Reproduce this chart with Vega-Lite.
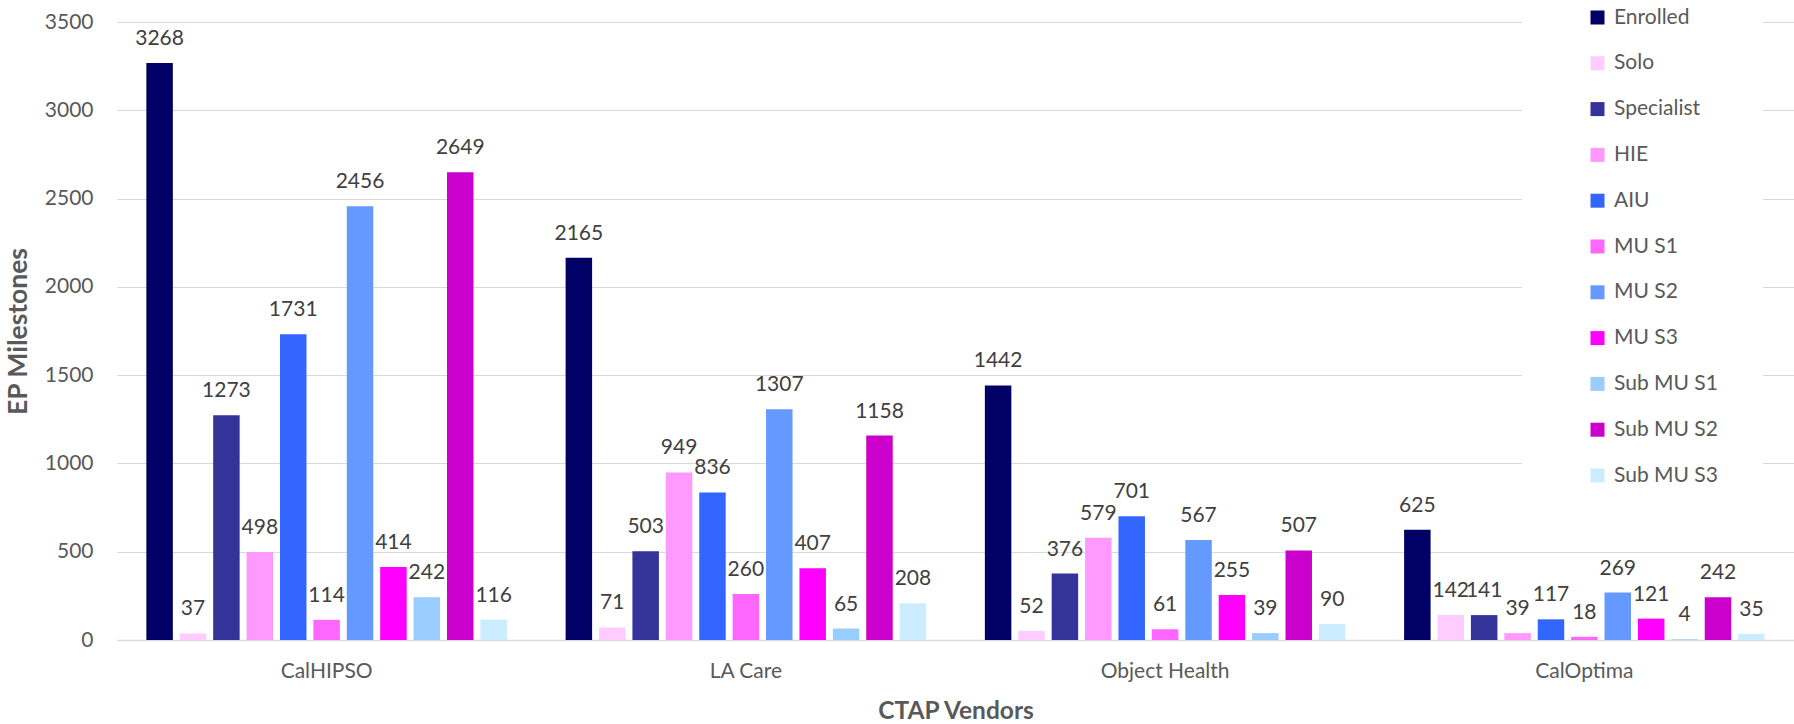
{
  "$schema": "https://vega.github.io/schema/vega-lite/v6.json",
  "autosize": {"type": "none"},
  "width": 1677,
  "height": 618,
  "padding": {"left": 117, "top": 22, "right": 0, "bottom": 84},
  "background": "white",
  "config": {
    "view": {"stroke": null},
    "font": "Lato"
  },
  "data": {
    "values": [
      {"vendor": "CalHIPSO", "series": "Enrolled", "value": 3268},
      {"vendor": "CalHIPSO", "series": "Solo", "value": 37},
      {"vendor": "CalHIPSO", "series": "Specialist", "value": 1273},
      {"vendor": "CalHIPSO", "series": "HIE", "value": 498},
      {"vendor": "CalHIPSO", "series": "AIU", "value": 1731},
      {"vendor": "CalHIPSO", "series": "MU S1", "value": 114},
      {"vendor": "CalHIPSO", "series": "MU S2", "value": 2456},
      {"vendor": "CalHIPSO", "series": "MU S3", "value": 414},
      {"vendor": "CalHIPSO", "series": "Sub MU S1", "value": 242},
      {"vendor": "CalHIPSO", "series": "Sub MU S2", "value": 2649},
      {"vendor": "CalHIPSO", "series": "Sub MU S3", "value": 116},
      {"vendor": "LA Care", "series": "Enrolled", "value": 2165},
      {"vendor": "LA Care", "series": "Solo", "value": 71},
      {"vendor": "LA Care", "series": "Specialist", "value": 503},
      {"vendor": "LA Care", "series": "HIE", "value": 949},
      {"vendor": "LA Care", "series": "AIU", "value": 836},
      {"vendor": "LA Care", "series": "MU S1", "value": 260},
      {"vendor": "LA Care", "series": "MU S2", "value": 1307},
      {"vendor": "LA Care", "series": "MU S3", "value": 407},
      {"vendor": "LA Care", "series": "Sub MU S1", "value": 65},
      {"vendor": "LA Care", "series": "Sub MU S2", "value": 1158},
      {"vendor": "LA Care", "series": "Sub MU S3", "value": 208},
      {"vendor": "Object Health", "series": "Enrolled", "value": 1442},
      {"vendor": "Object Health", "series": "Solo", "value": 52},
      {"vendor": "Object Health", "series": "Specialist", "value": 376},
      {"vendor": "Object Health", "series": "HIE", "value": 579},
      {"vendor": "Object Health", "series": "AIU", "value": 701},
      {"vendor": "Object Health", "series": "MU S1", "value": 61},
      {"vendor": "Object Health", "series": "MU S2", "value": 567},
      {"vendor": "Object Health", "series": "MU S3", "value": 255},
      {"vendor": "Object Health", "series": "Sub MU S1", "value": 39},
      {"vendor": "Object Health", "series": "Sub MU S2", "value": 507},
      {"vendor": "Object Health", "series": "Sub MU S3", "value": 90},
      {"vendor": "CalOptima", "series": "Enrolled", "value": 625},
      {"vendor": "CalOptima", "series": "Solo", "value": 142},
      {"vendor": "CalOptima", "series": "Specialist", "value": 141},
      {"vendor": "CalOptima", "series": "HIE", "value": 39},
      {"vendor": "CalOptima", "series": "AIU", "value": 117},
      {"vendor": "CalOptima", "series": "MU S1", "value": 18},
      {"vendor": "CalOptima", "series": "MU S2", "value": 269},
      {"vendor": "CalOptima", "series": "MU S3", "value": 121},
      {"vendor": "CalOptima", "series": "Sub MU S1", "value": 4},
      {"vendor": "CalOptima", "series": "Sub MU S2", "value": 242},
      {"vendor": "CalOptima", "series": "Sub MU S3", "value": 35}
    ]
  },
  "encoding": {
    "x": {
      "field": "vendor",
      "type": "nominal",
      "sort": ["CalHIPSO", "LA Care", "Object Health", "CalOptima"],
      "scale": {"paddingInner": 0, "paddingOuter": 0},
      "axis": {
        "title": "CTAP Vendors",
        "titleFont": "Lato",
        "titleFontSize": 24.5,
        "titleFontWeight": "bold",
        "titleColor": "#595959",
        "titlePadding": 18,
        "labelAngle": 0,
        "labelFont": "Lato",
        "labelFontSize": 21,
        "labelColor": "#595959",
        "labelPadding": 20,
        "ticks": false,
        "domainColor": "#D9D9D9",
        "domainWidth": 1.5,
        "grid": false
      }
    },
    "xOffset": {
      "field": "series",
      "type": "nominal",
      "sort": ["Enrolled", "Solo", "Specialist", "HIE", "AIU", "MU S1", "MU S2", "MU S3", "Sub MU S1", "Sub MU S2", "Sub MU S3"],
      "scale": {"paddingInner": 0.207, "paddingOuter": 0.879}
    },
    "y": {
      "field": "value",
      "type": "quantitative",
      "scale": {"domain": [0, 3500], "nice": false},
      "axis": {
        "title": "EP Milestones",
        "titleFont": "Lato",
        "titleFontSize": 26.5,
        "titleFontWeight": "bold",
        "titleColor": "#595959",
        "titlePadding": 12,
        "labelFont": "Lato",
        "labelFontSize": 21,
        "labelColor": "#595959",
        "labelPadding": 24,
        "format": "d",
        "values": [0, 500, 1000, 1500, 2000, 2500, 3000, 3500],
        "ticks": false,
        "domain": false,
        "gridColor": "#D9D9D9",
        "gridWidth": 1.2
      }
    }
  },
  "layer": [
    {
      "mark": {"type": "bar"},
      "encoding": {
        "color": {
          "field": "series",
          "type": "nominal",
          "sort": ["Enrolled", "Solo", "Specialist", "HIE", "AIU", "MU S1", "MU S2", "MU S3", "Sub MU S1", "Sub MU S2", "Sub MU S3"],
          "scale": {
            "domain": ["Enrolled", "Solo", "Specialist", "HIE", "AIU", "MU S1", "MU S2", "MU S3", "Sub MU S1", "Sub MU S2", "Sub MU S3"],
            "range": ["#000066", "#FFCCFF", "#333399", "#FF99FF", "#3366FF", "#FF66FF", "#6699FF", "#FF00FF", "#99CCFF", "#CC00CC", "#CCECFF"]
          },
          "legend": {
            "title": null,
            "orient": "none",
            "legendX": 1405,
            "legendY": -60,
            "fillColor": "white",
            "padding": 45,
            "symbolOffset": 20,
            "symbolType": "square",
            "symbolSize": 196,
            "symbolStrokeWidth": 0,
            "labelFont": "Lato",
            "labelFontSize": 21,
            "labelColor": "#595959",
            "labelOffset": 6,
            "rowPadding": 23.8
          }
        }
      }
    },
    {
      "mark": {"type": "text", "baseline": "alphabetic", "dy": -18, "font": "Lato", "fontSize": 21, "color": "#404040"},
      "encoding": {
        "text": {"field": "value", "type": "quantitative"}
      }
    }
  ]
}
